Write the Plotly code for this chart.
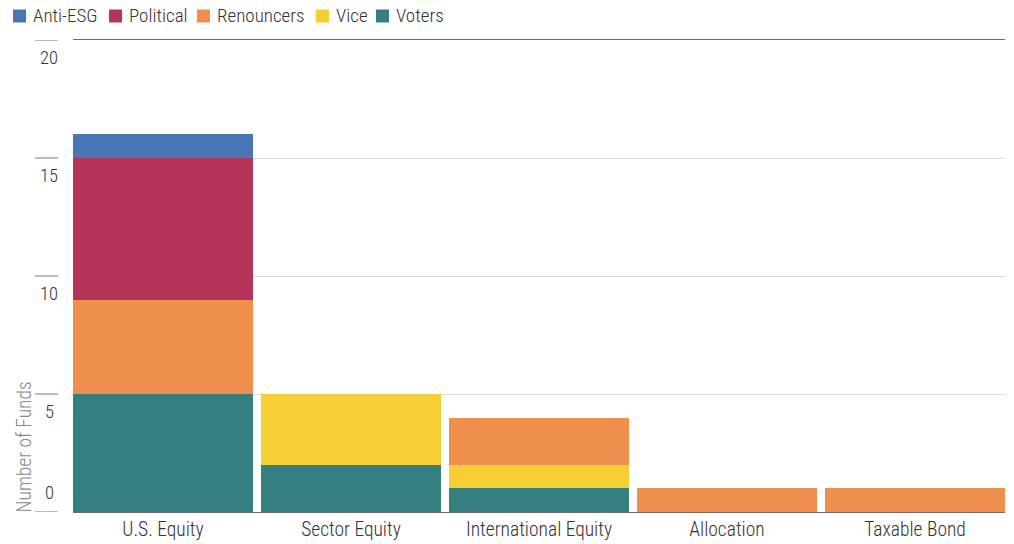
import plotly.graph_objects as go

categories = ["U.S. Equity", "Sector Equity", "International Equity", "Allocation", "Taxable Bond"]
series_names = ["Voters", "Vice", "Renouncers", "Political", "Anti-ESG"]
voters = [5, 2, 1, 0, 0]
vice = [0, 3, 1, 0, 0]
renouncers = [4, 0, 2, 1, 1]
political = [6, 0, 0, 0, 0]
anti_esg = [1, 0, 0, 0, 0]
y_ticks = [0, 5, 10, 15, 20]

colors = {
    "Voters": "#347f80",
    "Vice": "#f5cf33",
    "Renouncers": "#f0904f",
    "Political": "#b5355a",
    "Anti-ESG": "#4a76b5",
}
values = {
    "Voters": voters,
    "Vice": vice,
    "Renouncers": renouncers,
    "Political": political,
    "Anti-ESG": anti_esg,
}

FONT = "Roboto Condensed, Liberation Sans Narrow, DejaVu Sans Condensed, sans-serif"
WEIGHT = 300

W, H = 1014, 544
ML, MR, MT, MB = 73, 9, 40, 32
PW = W - ML - MR
PH = H - MT - MB
GAP = 0.0426  # bar gap fraction of a category slot


def px_to_paper_x(px):
    return (px - ML) / PW


def px_to_paper_y(py):
    return (H - MB - py) / PH


fig = go.Figure()
for name in series_names:
    fig.add_trace(go.Bar(
        x=categories, y=values[name], name=name,
        marker=dict(color=colors[name], line=dict(width=0)),
        showlegend=False, hoverinfo="skip",
    ))

n = len(categories)
fig.update_layout(
    barmode="stack",
    bargap=GAP,
    width=W, height=H,
    margin=dict(l=ML, r=MR, t=MT, b=MB, autoexpand=False),
    plot_bgcolor="white", paper_bgcolor="white",
    font=dict(family=FONT, size=18, color="#333333", weight=WEIGHT),
    showlegend=False,
    xaxis=dict(
        range=[-0.5 + GAP / 2, n - 0.5 - GAP / 2],
        showline=True, mirror=True, linecolor="#6b6b6b", linewidth=1,
        showgrid=False, ticks="", automargin=False,
        tickfont=dict(family=FONT, size=19.5, color="#333333", weight=WEIGHT),
    ),
    yaxis=dict(
        range=[0, 20], tickvals=y_ticks, showticklabels=False,
        showgrid=True, gridcolor="#dddddd", gridwidth=1,
        zeroline=False, showline=False, ticks="", automargin=False,
    ),
)

# legend (drawn as swatches + text, in reference order)
legend_order = list(reversed(series_names))
legend_square_left_px = [13, 109, 197, 316, 376]
legend_center_py = 16
sq = 13
for name, left in zip(legend_order, legend_square_left_px):
    fig.add_shape(type="rect", xref="paper", yref="paper",
                  x0=px_to_paper_x(left), x1=px_to_paper_x(left + sq),
                  y0=px_to_paper_y(legend_center_py + sq / 2),
                  y1=px_to_paper_y(legend_center_py - sq / 2),
                  line=dict(width=0), fillcolor=colors[name])
    fig.add_annotation(xref="paper", yref="paper",
                       x=px_to_paper_x(left + sq + 5), y=px_to_paper_y(legend_center_py),
                       text=name, showarrow=False, xanchor="left", yanchor="middle",
                       font=dict(family=FONT, size=19, color="#333333", weight=WEIGHT))

# short tick marks left of the plot and labels placed below each gridline
for t in y_ticks:
    fig.add_shape(type="line", xref="paper", yref="y",
                  x0=px_to_paper_x(35), x1=px_to_paper_x(58), y0=t, y1=t,
                  line=dict(color="#777777", width=1))
    fig.add_annotation(
        xref="paper", yref="y", x=px_to_paper_x(49), y=t,
        text=str(t), showarrow=False, xanchor="center",
        yanchor="bottom" if t == 0 else "top",
        yshift=6 if t == 0 else -5,
        font=dict(family=FONT, size=18.5, color="#333333", weight=WEIGHT),
    )

fig.add_annotation(
    xref="paper", yref="paper", x=px_to_paper_x(24), y=0,
    text="Number of Funds", showarrow=False, textangle=-90,
    xanchor="center", yanchor="bottom", yshift=-3,
    font=dict(family=FONT, size=19.5, color="#8a8a8a", weight=WEIGHT),
)

fig.write_html(
    "out.html",
    config={"displayModeBar": False},
    post_script="document.body.style.margin='0';document.body.style.overflow='hidden';",
)
